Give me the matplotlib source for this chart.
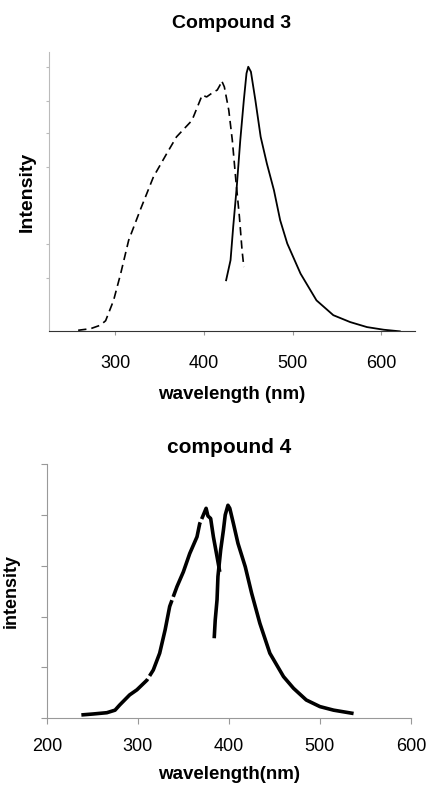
import matplotlib.pyplot as plt

plt.rcParams['font.family'] = ['Liberation Sans', 'DejaVu Sans']

# compound 3: excitation (dashed) and emission (solid), normalised intensity
c3_exc_wl = [258, 272, 283, 289, 298, 306, 315, 328, 343, 358, 369, 385, 388, 398,
             403, 411, 415, 418, 420, 423, 428, 432, 436, 440, 443, 445]
c3_exc_int = [0.004, 0.01, 0.023, 0.04, 0.117, 0.218, 0.344, 0.458, 0.584, 0.672,
              0.735, 0.792, 0.81, 0.893, 0.886, 0.905, 0.912, 0.93, 0.947, 0.924,
              0.836, 0.722, 0.571, 0.433, 0.306, 0.243]
c3_em_wl = [425, 430, 433, 437, 441, 445, 448, 450, 453, 458, 464, 471, 479, 486,
            494, 509, 527, 546, 565, 584, 603, 621]
c3_em_int = [0.193, 0.269, 0.395, 0.546, 0.723, 0.874, 0.975, 1.0, 0.981, 0.874,
             0.735, 0.634, 0.533, 0.42, 0.332, 0.218, 0.117, 0.061, 0.035, 0.016,
             0.006, 0.0]

# compound 4 (arbitrary units, 5 tick divisions)
c4_exc_wl = [238, 251, 266, 275, 280, 291, 299, 310, 317, 324, 330, 335, 343, 350,
             357, 365, 368, 372, 375, 377, 380, 383, 387, 390]
c4_exc_int = [0.066, 0.085, 0.11, 0.16, 0.26, 0.46, 0.56, 0.75, 0.95, 1.28, 1.74,
              2.2, 2.59, 2.88, 3.24, 3.57, 3.83, 4.0, 4.13, 3.98, 3.93, 3.57, 3.18,
              2.88]
c4_em_wl = [384, 385, 387, 388, 391, 394, 396, 399, 401, 405, 410, 418, 425, 434,
            445, 460, 471, 485, 500, 515, 535]
c4_em_int = [1.61, 1.93, 2.33, 2.79, 3.31, 3.70, 4.0, 4.19, 4.13, 3.83, 3.44, 2.98,
             2.46, 1.87, 1.28, 0.82, 0.59, 0.36, 0.23, 0.16, 0.1]

fig = plt.figure(figsize=(4.29, 7.87), dpi=100)

# ---- top panel
ax1 = fig.add_axes([0.114, 0.579, 0.853, 0.355])
ax1.plot(c3_exc_wl, c3_exc_int, color='black', lw=1.2, ls=(0, (5, 3)))
ax1.plot(c3_em_wl, c3_em_int, color='black', lw=1.3)
ax1.set_xlim(225, 638)
ax1.set_ylim(0, 1.056)
ax1.set_xticks([300, 400, 500, 600])
ax1.set_yticks([0.2, 0.33, 0.62, 0.75, 0.87, 1.0])
ax1.set_yticklabels([])
for s in ['top', 'right']:
    ax1.spines[s].set_visible(False)
ax1.spines['left'].set_color('#bbbbbb')
ax1.spines['left'].set_linewidth(0.8)
ax1.spines['bottom'].set_color('#333333')
ax1.tick_params(axis='y', length=2, color='#bbbbbb')
ax1.tick_params(axis='x', length=3, color='#999999', labelsize=13, pad=14)
ax1.set_title('Compound 3', fontsize=14, fontweight='bold', pad=17)
ax1.set_xlabel('wavelength (nm)', fontsize=13.5, fontweight='bold', labelpad=10)
ax1.set_ylabel('Intensity', fontsize=14, fontweight='bold', labelpad=4)

# ---- bottom panel
ax2 = fig.add_axes([0.109, 0.0873, 0.849, 0.323])
ax2.plot(c4_exc_wl, c4_exc_int, color='black', lw=2.6, ls=(0, (22, 1)))
ax2.plot(c4_em_wl, c4_em_int, color='black', lw=2.6)
ax2.set_xlim(200, 600)
ax2.set_ylim(0, 5)
ax2.set_xticks([200, 300, 400, 500, 600])
ax2.set_yticks([0, 1, 2, 3, 4, 5])
ax2.set_yticklabels([])
for s in ['top', 'right']:
    ax2.spines[s].set_visible(False)
ax2.spines['left'].set_color('#999999')
ax2.spines['bottom'].set_color('#999999')
ax2.tick_params(axis='y', length=4, color='#999999')
ax2.tick_params(axis='x', length=4, color='#999999', labelsize=13, pad=10)
ax2.set_title('compound 4', fontsize=15, fontweight='bold', pad=8)
ax2.set_xlabel('wavelength(nm)', fontsize=13.5, fontweight='bold', labelpad=8)
ax2.set_ylabel('intensity', fontsize=13, fontweight='bold', labelpad=12)

fig.savefig('out.png', dpi=100)
